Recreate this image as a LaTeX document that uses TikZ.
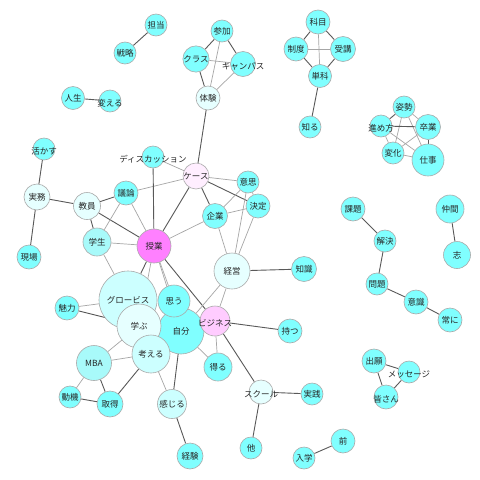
\documentclass[tikz,border=0pt]{standalone}
\usepackage{fontspec}
\usepackage{xcolor}
\usepackage{tikz}
\usetikzlibrary{backgrounds}
\newfontfamily\jpfont{Noto Sans CJK JP}
\definecolor{CoAqua}{HTML}{80FFFF}
\definecolor{CoAquaMid}{HTML}{A8FAFA}
\definecolor{CoAquaLight}{HTML}{CCFFFF}
\definecolor{CoAquaPale}{HTML}{E6FFFF}
\definecolor{CoMagenta}{HTML}{FF80FF}
\definecolor{CoPink}{HTML}{FFCCFF}
\definecolor{CoPinkPale}{HTML}{FFEEFF}
\definecolor{CoRim}{HTML}{AAAAAA}
\tikzset{
  cotext/.style={
    inner sep=0pt,
    font=\jpfont\fontsize{8.5}{9}\selectfont,
    text=black!85
  },
  coword/.style={
    circle,
    draw=CoRim,
    fill=CoAqua,
    line width=0.6pt,
    minimum size=#1,
    cotext
  },
  coword/.default=23pt,
  cowide/.style={label={[cotext, yshift=-2pt]center:#1}},
  coedge/.style={line width=0.7pt, draw=black!35},
  costrong/.style={line width=0.9pt, draw=black!65}
}
\begin{document}
\begin{tikzpicture}[x=1pt, y=-1pt]
  \useasboundingbox (0,0) rectangle (480,480);
  % top left
  \node[coword=22pt] (tanto) at (156,25) {担当};
  \node[coword=22pt] (senryaku) at (125,53) {戦略};
  \node[coword=23pt] (jinsei) at (73,98) {人生};
  \node[coword=22pt, cowide=変える] (kaeru) at (110,101) {};
  \node[coword=22pt] (sanka) at (222,31) {参加};
  \node[coword=23pt] (kurasu) at (196,59) {クラス};
  \node[coword=25pt, cowide=キャンパス] (campus) at (243,64) {};
  \node[coword=24pt, fill=CoAquaPale] (taiken) at (208,98) {体験};
  % top right
  \node[coword=24pt] (kamoku) at (318,22) {科目};
  \node[coword=24pt] (seido) at (296,49) {制度};
  \node[coword=25pt] (juko) at (343,49) {受講};
  \node[coword=23pt] (tanka) at (320,76) {単科};
  \node[coword=22pt] (shiru) at (310,127) {知る};
  \node[coword=22pt] (shisei) at (404,107) {姿勢};
  \node[coword=22pt, cowide=進め方] (susumekata) at (381,126) {};
  \node[coword=25pt] (sotsugyo) at (428,127) {卒業};
  \node[coword=22pt] (henka) at (393,153) {変化};
  \node[coword=32pt] (shigoto) at (428,160) {仕事};
  % left and centre
  \node[coword=22pt, cowide=活かす] (ikasu) at (44,149) {};
  \node[coword=26pt, fill=CoAquaPale] (jitsumu) at (37,197) {実務};
  \node[coword=24pt] (genba) at (29,257) {現場};
  \node[coword=27pt, fill=CoAquaPale] (kyoin) at (87,206) {教員};
  \node[coword=24pt] (giron) at (126,193) {議論};
  \node[coword=22pt, cowide=ディスカッション] (discussion) at (153,157) {};
  \node[coword=24pt, fill=CoPinkPale] (kesu) at (196,176) {ケース};
  \node[coword=22pt] (ishi) at (248,182) {意思};
  \node[coword=24pt] (kettei) at (258,206) {決定};
  \node[coword=25pt] (kigyo) at (215,216) {企業};
  \node[coword=28pt, fill=CoAquaMid] (gakusei) at (97,242) {学生};
  \node[coword=34pt, fill=CoMagenta] (jugyo) at (154,246) {授業};
  \node[coword=36pt, fill=CoAquaPale] (keiei) at (232,271) {経営};
  \node[coword=25pt] (chishiki) at (304,269) {知識};
  \node[coword=24pt] (miryoku) at (67,308) {魅力};
  \node[coword=58pt, fill=CoAquaLight] (globis) at (128,300) {グロービス};
  \node[coword=46pt] (jibun) at (181,331) {自分};
  \node[coword=44pt, fill=CoAquaPale] (manabu) at (139,326) {学ぶ};
  \node[coword=32pt] (omou) at (174,301) {思う};
  \node[coword=38pt, fill=CoAquaLight] (kangaeru) at (151,354) {考える};
  \node[coword=30pt, fill=CoPink, cowide=ビジネス] (business) at (215,321) {};
  \node[coword=24pt] (motsu) at (290,331) {持つ};
  \node[coword=35pt, fill=CoAquaMid] (mba) at (94,363) {MBA};
  \node[coword=28pt] (eru) at (218,367) {得る};
  \node[coword=22pt] (doki) at (70,397) {動機};
  \node[coword=26pt] (shutoku) at (110,404) {取得};
  \node[coword=29pt, fill=CoAquaLight] (kanjiru) at (172,404) {感じる};
  \node[coword=26pt] (keiken) at (190,456) {経験};
  \node[coword=24pt, fill=CoAquaPale, cowide=スクール] (school) at (261,392) {};
  \node[coword=22pt] (jissen) at (312,394) {実践};
  \node[coword=22pt] (hoka) at (251,448) {他};
  \node[coword=22pt] (nyugaku) at (304,458) {入学};
  \node[coword=24pt] (mae) at (343,441) {前};
  % right side
  \node[coword=24pt] (kadai) at (353,209) {課題};
  \node[coword=22pt] (kaiketsu) at (385,241) {解決};
  \node[coword=22pt] (mondai) at (377,284) {問題};
  \node[coword=24pt] (ishiki) at (416,302) {意識};
  \node[coword=24pt] (tsuneni) at (450,320) {常に};
  \node[coword=28pt] (nakama) at (450,209) {仲間};
  \node[coword=27pt] (kokorozashi) at (457,255) {志};
  \node[coword=24pt] (shutsugan) at (374,361) {出願};
  \node[coword=22pt, cowide=メッセージ] (message) at (409,372) {};
  \node[coword=24pt, cowide=皆さん] (minasan) at (386,397) {};
  \begin{pgfonlayer}{background}
    \fill[white] (0,0) rectangle (480,480);
    \draw[costrong] (tanto) -- (senryaku);
    \draw[costrong] (jinsei) -- (kaeru);
    \draw[costrong] (sanka) -- (kurasu);
    \draw[costrong] (sanka) -- (campus);
    \draw[coedge] (sanka) -- (taiken);
    \draw[coedge] (kurasu) -- (campus);
    \draw[costrong] (kurasu) -- (taiken);
    \draw[coedge] (campus) -- (taiken);
    \draw[costrong] (taiken) -- (kesu);
    \draw[costrong] (kamoku) -- (seido);
    \draw[costrong] (kamoku) -- (juko);
    \draw[coedge] (kamoku) -- (tanka);
    \draw[coedge] (seido) -- (juko);
    \draw[costrong] (seido) -- (tanka);
    \draw[costrong] (juko) -- (tanka);
    \draw[costrong] (tanka) -- (shiru);
    \draw[costrong] (shisei) -- (susumekata);
    \draw[coedge] (shisei) -- (sotsugyo);
    \draw[coedge] (shisei) -- (henka);
    \draw[coedge] (shisei) -- (shigoto);
    \draw[costrong] (susumekata) -- (sotsugyo);
    \draw[coedge] (susumekata) -- (henka);
    \draw[coedge] (susumekata) -- (shigoto);
    \draw[coedge] (sotsugyo) -- (henka);
    \draw[costrong] (sotsugyo) -- (shigoto);
    \draw[coedge] (henka) -- (shigoto);
    \draw[costrong] (ikasu) -- (jitsumu);
    \draw[costrong] (jitsumu) -- (genba);
    \draw[costrong] (jitsumu) -- (kyoin);
    \draw[costrong] (kyoin) -- (giron);
    \draw[costrong] (kyoin) -- (gakusei);
    \draw[costrong] (kyoin) -- (jugyo);
    \draw[coedge] (giron) -- (gakusei);
    \draw[coedge] (giron) -- (jugyo);
    \draw[coedge] (giron) -- (kesu);
    \draw[costrong] (discussion) -- (jugyo);
    \draw[coedge] (discussion) -- (kesu);
    \draw[costrong] (kesu) -- (jugyo);
    \draw[coedge] (kesu) -- (ishi);
    \draw[costrong] (kesu) -- (kettei);
    \draw[costrong] (kesu) -- (kigyo);
    \draw[coedge] (ishi) -- (kettei);
    \draw[coedge] (ishi) -- (kigyo);
    \draw[coedge] (ishi) -- (keiei);
    \draw[coedge] (kettei) -- (kigyo);
    \draw[coedge] (kettei) -- (keiei);
    \draw[coedge] (kigyo) -- (jugyo);
    \draw[coedge] (kigyo) -- (keiei);
    \draw[coedge] (gakusei) -- (jugyo);
    \draw[coedge] (gakusei) -- (globis);
    \draw[costrong] (jugyo) -- (globis);
    \draw[coedge] (jugyo) -- (manabu);
    \draw[coedge] (jugyo) -- (omou);
    \draw[coedge] (jugyo) -- (jibun);
    \draw[costrong] (jugyo) -- (business);
    \draw[coedge] (keiei) -- (jibun);
    \draw[coedge] (keiei) -- (business);
    \draw[costrong] (keiei) -- (chishiki);
    \draw[costrong] (business) -- (motsu);
    \draw[costrong] (business) -- (school);
    \draw[coedge] (business) -- (eru);
    \draw[coedge] (business) -- (jibun);
    \draw[coedge] (miryoku) -- (globis);
    \draw[costrong] (miryoku) -- (manabu);
    \draw[coedge] (globis) -- (manabu);
    \draw[coedge] (manabu) -- (kangaeru);
    \draw[coedge] (manabu) -- (jibun);
    \draw[coedge] (manabu) -- (mba);
    \draw[coedge] (jibun) -- (omou);
    \draw[coedge] (jibun) -- (kangaeru);
    \draw[costrong] (jibun) -- (kanjiru);
    \draw[coedge] (jibun) -- (eru);
    \draw[coedge] (kangaeru) -- (mba);
    \draw[costrong] (kangaeru) -- (shutoku);
    \draw[coedge] (kangaeru) -- (kanjiru);
    \draw[coedge] (mba) -- (doki);
    \draw[costrong] (mba) -- (shutoku);
    \draw[costrong] (doki) -- (shutoku);
    \draw[costrong] (kanjiru) -- (keiken);
    \draw[costrong] (school) -- (jissen);
    \draw[costrong] (school) -- (hoka);
    \draw[costrong] (kadai) -- (kaiketsu);
    \draw[costrong] (kaiketsu) -- (mondai);
    \draw[costrong] (mondai) -- (ishiki);
    \draw[costrong] (ishiki) -- (tsuneni);
    \draw[costrong] (nakama) -- (kokorozashi);
    \draw[costrong] (shutsugan) -- (message);
    \draw[costrong] (shutsugan) -- (minasan);
    \draw[costrong] (minasan) -- (message);
    \draw[costrong] (nyugaku) -- (mae);
  \end{pgfonlayer}
\end{tikzpicture}
\end{document}
